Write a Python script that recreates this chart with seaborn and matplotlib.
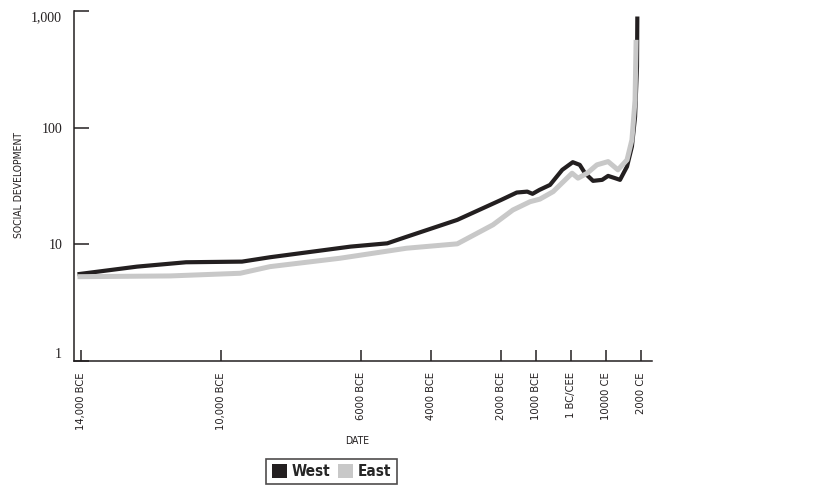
import numpy as np
import pandas as pd
import matplotlib
matplotlib.use('Agg')
import matplotlib.pyplot as plt
import seaborn as sns
from matplotlib.patches import Patch

# ---- data ----
west_years = [-14100, -12400, -11000, -9400, -8600, -6300, -5250, -4700, -3250,
              -2000, -1550, -1250, -1100, -900, -600, -250, 50, 250, 400, 630,
              890, 1060, 1260, 1400, 1600, 1740, 1830, 1885, 1895]
west_values = [5.54, 6.44, 7.02, 7.11, 7.75, 9.56, 10.2, 11.6, 16.2,
               24.0, 27.8, 28.3, 27.1, 29.3, 32.3, 43.5, 50.6, 48.0, 40.7, 35.0,
               35.7, 38.6, 36.9, 35.7, 46.4, 68.9, 124, 334, 897]

east_years = [-14100, -11450, -9450, -8600, -6600, -4700, -3250, -2230, -1660,
              -1170, -890, -510, 30, 200, 460, 740, 1060, 1340, 1600, 1740,
              1830, 1860]
east_values = [5.28, 5.36, 5.65, 6.44, 7.60, 9.26, 10.1, 14.7, 19.7,
               23.2, 24.4, 28.3, 40.7, 36.9, 40.7, 48.0, 51.2, 43.5, 52.9, 78.6,
               173, 566]

series_names = ['West', 'East']
series_colors = ['#231f20', '#c8c8c8']

x_tick_years = [-14000, -10000, -6000, -4000, -2000, -1000, 0, 1000, 2000]
x_tick_labels = ['14,000 BCE', '10,000 BCE', '6000 BCE', '4000 BCE', '2000 BCE',
                 '1000 BCE', '1 BC/CEE', '10000 CE', '2000 CE']
y_ticks = [1, 10, 100, 1000]
y_tick_labels = ['1', '10', '100', '1,000']

# ---- style ----
sns.set_theme(style='white')
plt.rcParams['font.family'] = ['DejaVu Sans']
plt.rcParams['font.stretch'] = 'condensed'

df = pd.concat([
    pd.DataFrame({'year': west_years, 'value': west_values, 'region': 'West'}),
    pd.DataFrame({'year': east_years, 'value': east_values, 'region': 'East'}),
], ignore_index=True)

W, H = 821, 493
fig = plt.figure(figsize=(W / 100, H / 100), dpi=100)
ax = fig.add_axes([74 / W, 1 - 361 / H, (652 - 74) / W, (361 - 11) / H])

sns.lineplot(data=df, x='year', y='value', hue='region', hue_order=series_names,
             palette=dict(zip(series_names, series_colors)), estimator=None,
             sort=False, legend=False, ax=ax, linewidth=3.2)
for line, lw in zip(ax.get_lines(), [3.0, 3.6]):
    line.set_linewidth(lw)
    line.set_solid_capstyle('butt')
    line.set_solid_joinstyle('round')

ax.set_yscale('log')
ax.set_ylim(1, 1000)
ax.set_xlim(-14200, 2314)

ax.set_yticks(y_ticks)
ax.set_yticklabels(y_tick_labels, family=['Liberation Serif', 'DejaVu Serif'],
                   fontsize=10, stretch='normal')
ylabels = ax.get_yticklabels()
ylabels[0].set_verticalalignment('bottom')
ylabels[-1].set_verticalalignment('top')
ax.yaxis.set_minor_locator(matplotlib.ticker.NullLocator())
ax.set_xticks(x_tick_years)
ax.set_xticklabels(x_tick_labels, rotation=90, fontsize=8, color='#231f20',
                   family='DejaVu Sans', stretch='condensed')

ax.tick_params(axis='y', direction='in', length=11, width=1.1, color='#231f20',
               pad=8.5, left=True, labelcolor='#231f20')
ax.tick_params(axis='x', direction='in', length=8, width=1.1, color='#231f20',
               pad=8, bottom=True)

for s in ['top', 'right']:
    ax.spines[s].set_visible(False)
for s in ['left', 'bottom']:
    ax.spines[s].set_color('#231f20')
    ax.spines[s].set_linewidth(1.1)

ax.set_xlabel('DATE', fontsize=7.5, color='#231f20', family='DejaVu Sans', stretch='condensed')
ax.xaxis.set_label_coords((357 - 74) / 578, (361 - 436) / 350)
ax.set_ylabel('SOCIAL DEVELOPMENT', fontsize=7.5, color='#231f20', family='DejaVu Sans',
              stretch='condensed')
ax.yaxis.set_label_coords((24 - 74) / 578, 0.503)

handles = [Patch(facecolor=c, edgecolor='none', label=n)
           for n, c in zip(series_names, series_colors)]
leg = fig.legend(handles=handles, loc='center', bbox_to_anchor=(331.5 / W, 1 - 471.5 / H),
                 ncol=2, frameon=True, fancybox=False, handlelength=1.0, handleheight=1.0,
                 handletextpad=0.3, columnspacing=0.5, borderpad=0.35,
                 prop={'family': 'DejaVu Sans', 'stretch': 'condensed', 'weight': 'bold',
                       'size': 11})
leg.get_frame().set_edgecolor('#231f20')
leg.get_frame().set_linewidth(1.2)
leg.get_frame().set_boxstyle('square', pad=0)

fig.savefig('out.png', dpi=100)
